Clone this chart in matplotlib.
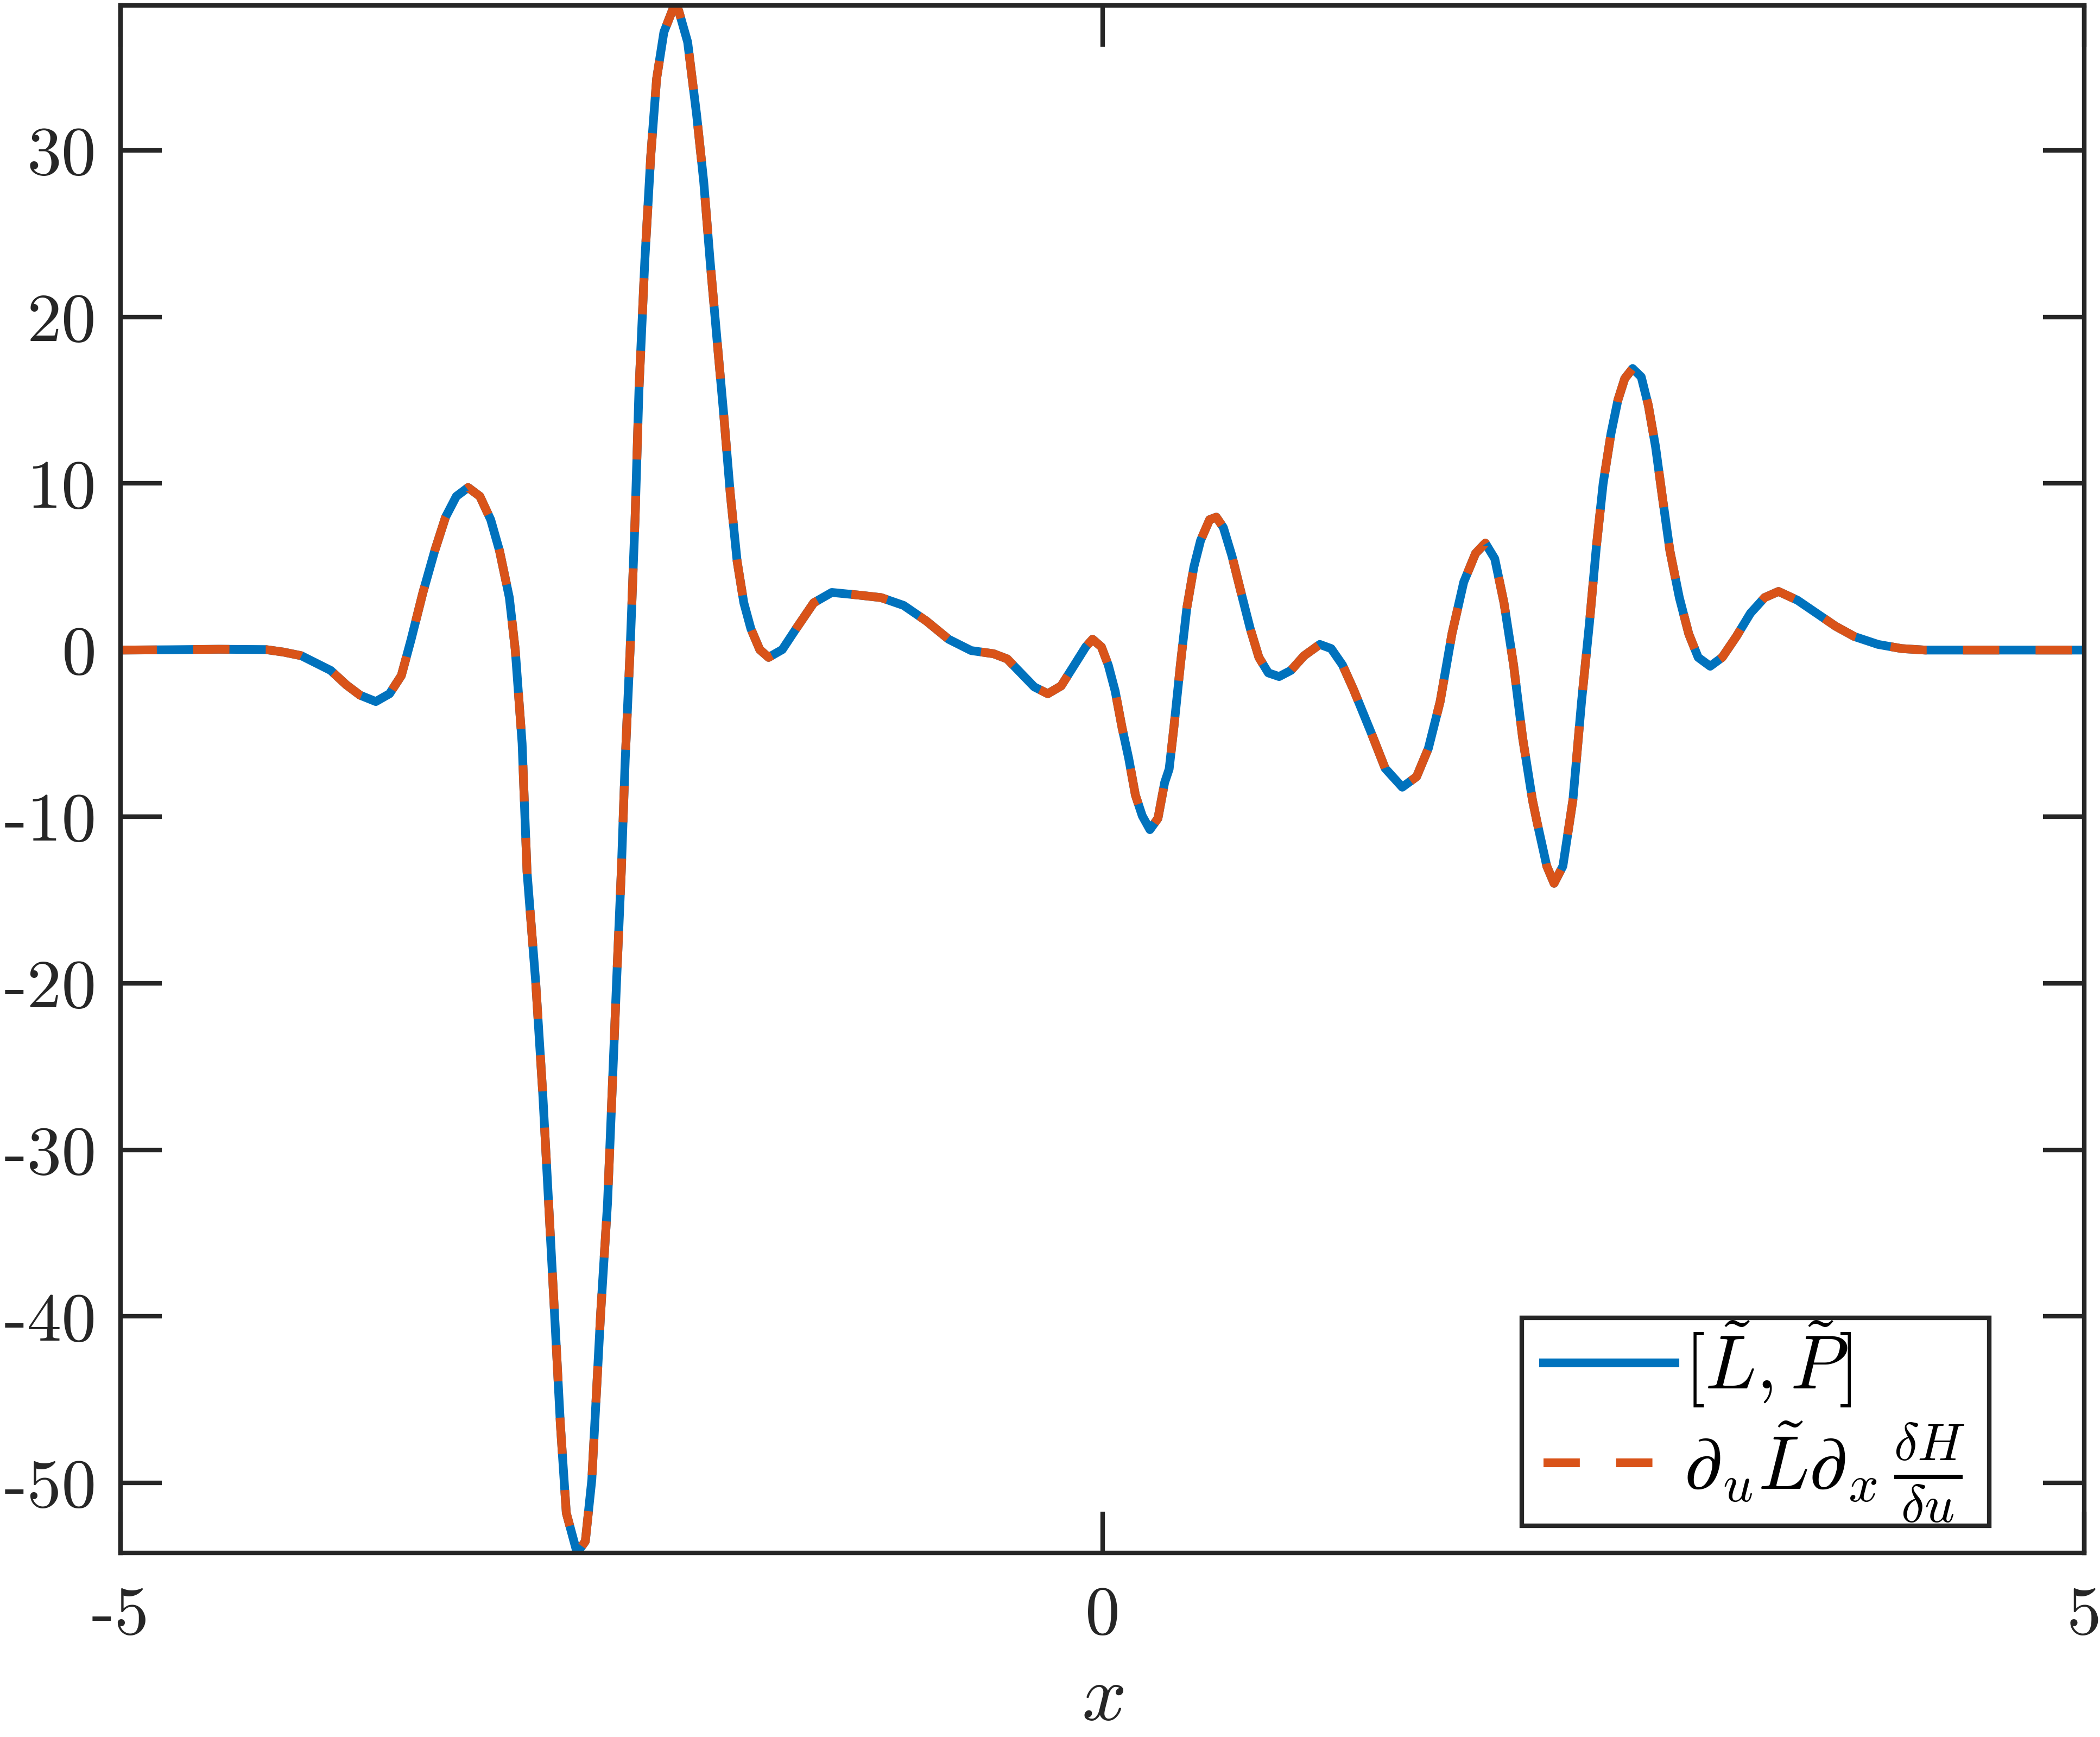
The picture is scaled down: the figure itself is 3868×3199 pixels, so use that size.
import matplotlib
matplotlib.use("Agg")
import matplotlib.pyplot as plt
import numpy as np
from matplotlib.legend_handler import HandlerLine2D
from matplotlib.path import Path

# ---- data ----
x_vals = [-5.00, -4.75, -4.50, -4.26, -4.17, -4.079, -3.93, -3.85, -3.78, -3.70,
          -3.63, -3.57, -3.52, -3.46, -3.40, -3.345, -3.29, -3.23, -3.17, -3.115,
          -3.07, -3.02, -2.99, -2.955, -2.93, -2.886, -2.85, -2.82, -2.79, -2.76,
          -2.73, -2.675, -2.633, -2.60, -2.555, -2.52, -2.497, -2.474, -2.45, -2.43,
          -2.405, -2.38, -2.36, -2.33, -2.30, -2.27, -2.233, -2.18, -2.158, -2.112,
          -2.066, -2.03, -1.998, -1.963, -1.928, -1.895, -1.86, -1.826, -1.79, -1.745,
          -1.70, -1.63, -1.56, -1.47, -1.378, -1.24, -1.127, -1.012, -0.897, -0.783,
          -0.668, -0.554, -0.485, -0.416, -0.347, -0.278, -0.21, -0.143, -0.085, -0.05,
          -0.005, 0.03, 0.065, 0.10, 0.134, 0.168, 0.203, 0.242, 0.283, 0.317,
          0.34, 0.364, 0.397, 0.43, 0.466, 0.50, 0.546, 0.58, 0.616, 0.66,
          0.706, 0.753, 0.797, 0.845, 0.90, 0.96, 1.027, 1.107, 1.165, 1.223,
          1.28, 1.37, 1.44, 1.527, 1.60, 1.66, 1.72, 1.78, 1.84, 1.90,
          1.95, 1.998, 2.045, 2.094, 2.14, 2.19, 2.214, 2.263, 2.30, 2.345,
          2.396, 2.44, 2.48, 2.516, 2.55, 2.59, 2.625, 2.66, 2.70, 2.744,
          2.78, 2.817, 2.853, 2.89, 2.938, 2.986, 3.034, 3.095, 3.156, 3.228,
          3.30, 3.372, 3.443, 3.54, 3.637, 3.734, 3.83, 3.95, 4.07, 4.19,
          4.50, 5.00]
commutator = [0.0, 0.02, 0.05, 0.03, -0.12, -0.34, -1.22, -2.09, -2.71, -3.09,
              -2.62, -1.53, 0.65, 3.46, 5.96, 7.98, 9.23, 9.76, 9.23, 7.83,
              5.96, 3.15, 0.03, -5.6, -13.3, -19.9, -26.6, -33.2, -39.8, -46.5,
              -51.8, -54.2, -53.5, -49.8, -39.8, -33.2, -26.6, -19.9, -13.3, -6.6,
              0.03, 7.8, 15.6, 23.4, 29.65, 34.3, 37.1, 38.7, 38.4, 36.5,
              32.1, 28.1, 23.4, 18.7, 14.1, 9.4, 5.33, 2.84, 1.28, 0.03,
              -0.44, 0.03, 1.28, 2.84, 3.46, 3.3, 3.15, 2.68, 1.75, 0.65,
              -0.03, -0.22, -0.53, -1.37, -2.21, -2.62, -2.15, -0.90, 0.19, 0.65,
              0.19, -0.9, -2.46, -4.65, -6.5, -8.7, -9.95, -10.78, -10.1, -7.95,
              -7.14, -4.65, -0.9, 2.53, 5.0, 6.58, 7.83, 7.98, 7.36, 5.64,
              3.46, 1.28, -0.44, -1.37, -1.59, -1.22, -0.34, 0.34, 0.09, -0.9,
              -2.4, -5.0, -7.1, -8.23, -7.6, -5.9, -3.09, 0.97, 4.08, 5.8,
              6.42, 5.49, 2.84, -0.9, -5.27, -9.0, -10.36, -12.97, -14.0, -12.97,
              -9.0, -3.09, 1.59, 6.27, 10.0, 13.0, 15.0, 16.3, 16.9, 16.4,
              14.7, 12.2, 9.07, 5.96, 3.15, 0.97, -0.44, -0.97, -0.44, 0.81,
              2.21, 3.15, 3.52, 2.99, 2.21, 1.43, 0.81, 0.34, 0.09, 0.0,
              0.0, 0.0]
formula = list(commutator)  # the two series coincide in the reference

x_ticks = [-5, 0, 5]
y_ticks = [-50, -40, -30, -20, -10, 0, 10, 20, 30]
x_ticklabels = ["-5", "0", "5"]
y_ticklabels = ["-50", "-40", "-30", "-20", "-10", "0", "10", "20", "30"]
labels = [r"$[\tilde{L},\tilde{P}]$",
          r"$\partial_u\tilde{L}\partial_x\,\frac{\delta H}{\delta u}$"]

# ---- style ----
plt.rcParams["mathtext.fontset"] = "cm"
AX = "#262626"
BLUE = "#0072BD"
ORANGE = "#D95319"
FS = 23
LW = 2.9
LEG_FS = 25

W, H, DPI = 3868, 3199, 400
EXTRA_RIGHT = 7.5 * DPI / 72.0   # extra right padding inside the legend frame (px)


class PaddedLine(HandlerLine2D):
    """Legend line handler leaving a small gap on the left of the sample."""
    def get_xdata(self, legend, xdescent, ydescent, width, height, fontsize):
        off = 0.27 * fontsize
        return (np.array([-xdescent + off, -xdescent + width]),
                np.array([-xdescent + 0.5 * width]))


def wide_box(x0, y0, width, height, mutation_size):
    x1 = x0 + width + EXTRA_RIGHT
    y1 = y0 + height
    return Path([(x0, y0), (x1, y0), (x1, y1), (x0, y1), (x0, y0)],
                [Path.MOVETO, Path.LINETO, Path.LINETO, Path.LINETO,
                 Path.CLOSEPOLY])


fig = plt.figure(figsize=(W / DPI, H / DPI), dpi=DPI)
left, right, top, bottom = 222 / W, 3839 / W, 10 / H, 2860 / H
ax = fig.add_axes([left, 1 - bottom, right - left, bottom - top])

l1, = ax.plot(x_vals, commutator, color=BLUE, lw=LW, solid_joinstyle="round",
              label=labels[0])
l2, = ax.plot(x_vals, formula, color=ORANGE, lw=LW, linestyle=(0, (4.15, 4.15)),
              dash_capstyle="butt", label=labels[1])

ax.set_xlim(-5, 5)
ax.set_ylim(min(commutator), max(commutator))
ax.set_xticks(x_ticks)
ax.set_xticklabels(x_ticklabels, fontfamily="cmr10", fontsize=FS, color=AX)
ax.set_yticks(y_ticks)
ax.set_yticklabels(y_ticklabels, fontfamily="cmr10", fontsize=FS, color=AX)
ax.tick_params(direction="in", length=13.7, width=1.5, color=AX,
               top=True, right=True)
ax.tick_params(axis="x", pad=11)
ax.tick_params(axis="y", pad=8)
for s in ax.spines.values():
    s.set_color(AX)
    s.set_linewidth(1.5)

ax.set_xlabel(r"$x$", fontsize=26, color=AX, labelpad=4)

ax_w_px = (right - left) * W
leg = ax.legend(loc="lower right",
                bbox_to_anchor=(0.9516 - EXTRA_RIGHT / ax_w_px, 0.0175),
                borderaxespad=0, fontsize=LEG_FS, handlelength=2.01,
                handletextpad=0.12, borderpad=0.02, labelspacing=0.14,
                fancybox=False, framealpha=1, edgecolor=AX,
                handler_map={l1: PaddedLine(), l2: PaddedLine()})
leg.get_frame().set_linewidth(1.5)
leg.get_frame().set_boxstyle(wide_box)

fig.savefig("out.png", dpi=DPI)
